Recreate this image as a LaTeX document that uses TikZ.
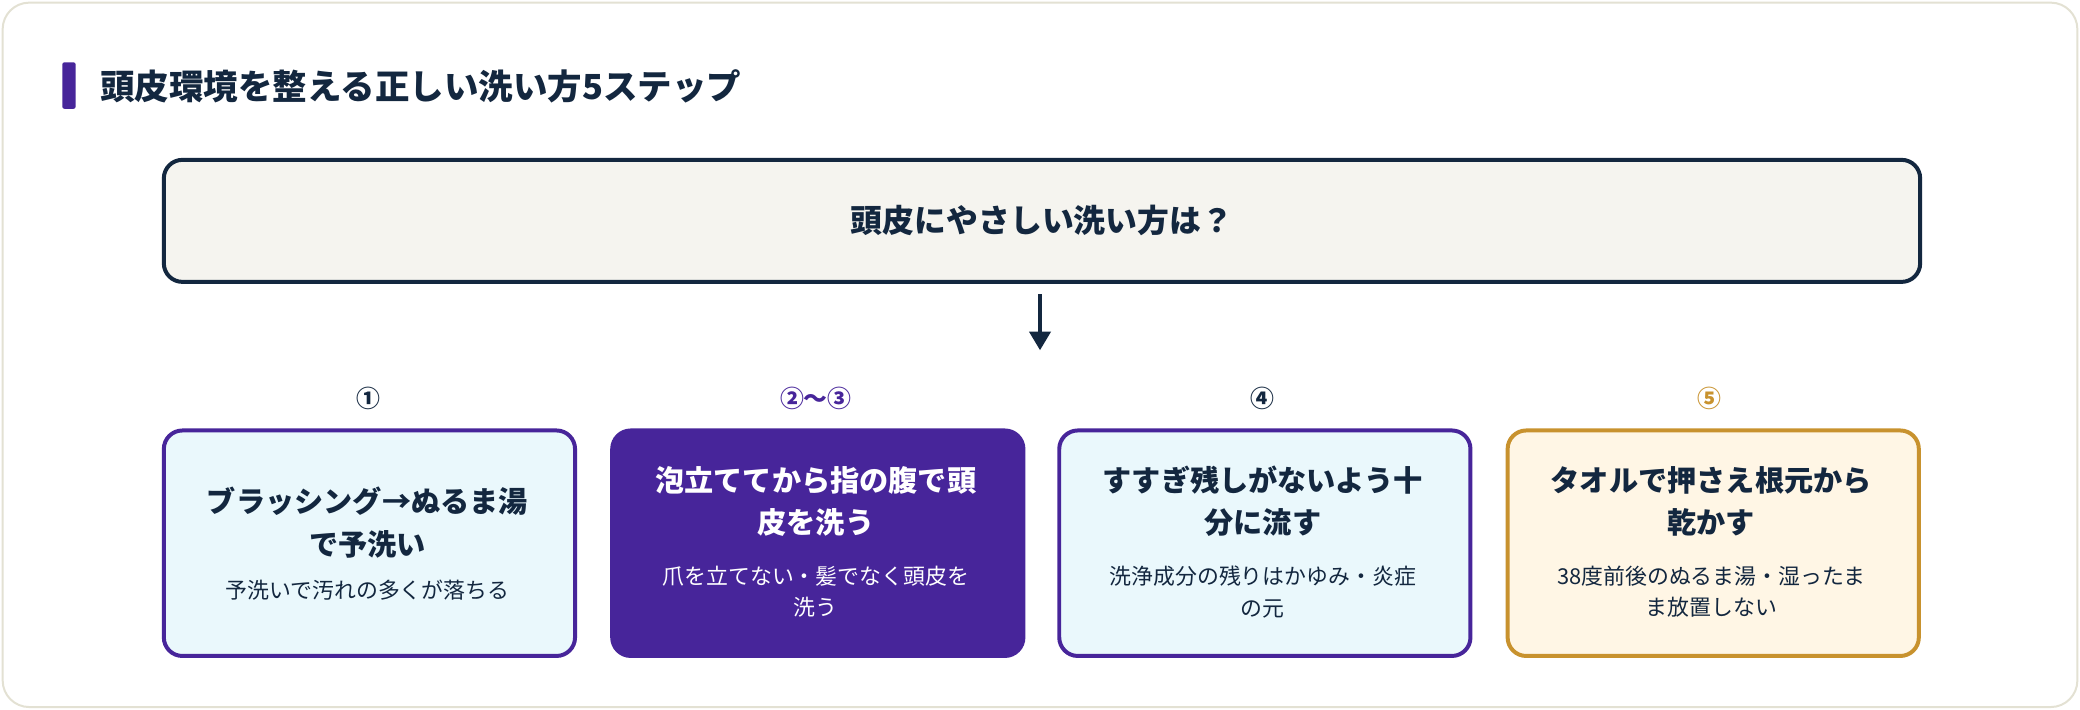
\documentclass[tikz,border=0pt]{standalone}
\usepackage{fontspec}
\setmainfont{Noto Sans CJK JP}
\usetikzlibrary{arrows.meta}
\definecolor{navy}{HTML}{13273F}
\definecolor{purp}{HTML}{47259A}
\definecolor{gold}{HTML}{C8922E}
\definecolor{qfill}{HTML}{F5F4EF}
\definecolor{bfill}{HTML}{EAF8FC}
\definecolor{gfill}{HTML}{FFF6E5}
\definecolor{frame}{HTML}{E3E1D3}
\begin{document}
\begin{tikzpicture}[x=1pt,y=-1pt,
  stepbox/.style={rounded corners=14pt,line width=3pt,minimum width=310pt,minimum height=170pt,anchor=north west},
  lab/.style={font=\fontsize{18}{20}\selectfont\bfseries},
  main/.style={font=\fontsize{22}{32}\selectfont\bfseries,align=center,text=navy},
  sub/.style={font=\fontsize{16.5}{24}\selectfont,align=center,text=navy}]
\useasboundingbox (0,0) rectangle (1568,535);
\draw[frame,fill=white,line width=1.5pt,rounded corners=20pt] (2,2) rectangle (1566,533);
\fill[purp,rounded corners=1.5pt] (47,47) rectangle (57,82);
\node[anchor=west,text=navy,font=\fontsize{26}{30}\selectfont\bfseries] (title) at (72,65) {頭皮環境を整える正しい洗い方5ステップ};
\node[draw=navy,fill=qfill,line width=3pt,rounded corners=14pt,minimum width=1324pt,minimum height=92pt,anchor=north west] (q) at (122,119) {};
\node[text=navy,font=\fontsize{24}{28}\selectfont\bfseries] (qt) at (q.center) {頭皮にやさしい洗い方は？};
\coordinate (a1) at (784,222);
\coordinate (a2) at (784,264);
\draw[navy,line width=2.5pt,-{Triangle[length=14pt,width=16pt]}] (a1) -- (a2);
\node[lab,text=navy] (l1) at (278,300) {①};
\node[lab,text=purp] (l2) at (615,300) {②〜③};
\node[lab,text=navy] (l3) at (952,300) {④};
\node[lab,text=gold] (l4) at (1289,300) {⑤};
\node[stepbox,draw=purp,fill=bfill] (b1) at (122,323) {};
\node[stepbox,draw=purp,fill=purp] (b2) at (460,323) {};
\node[stepbox,draw=purp,fill=bfill] (b3) at (797,323) {};
\node[stepbox,draw=gold,fill=gfill] (b4) at (1135,323) {};
\node[main] (m1) at (277,394) {ブラッシング→ぬるま湯\\で予洗い};
\node[sub] (s1) at (277,445) {予洗いで汚れの多くが落ちる};
\node[main,text=white] (m2) at (615,378) {泡立ててから指の腹で頭\\皮を洗う};
\node[sub,text=white] (s2) at (615,446) {爪を立てない・髪でなく頭皮を\\洗う};
\node[main] (m3) at (952,378) {すすぎ残しがないよう十\\分に流す};
\node[sub] (s3) at (952,446) {洗浄成分の残りはかゆみ・炎症\\の元};
\node[main] (m4) at (1290,378) {タオルで押さえ根元から\\乾かす};
\node[sub] (s4) at (1290,446) {38度前後のぬるま湯・湿ったま\\ま放置しない};
\end{tikzpicture}
\end{document}
